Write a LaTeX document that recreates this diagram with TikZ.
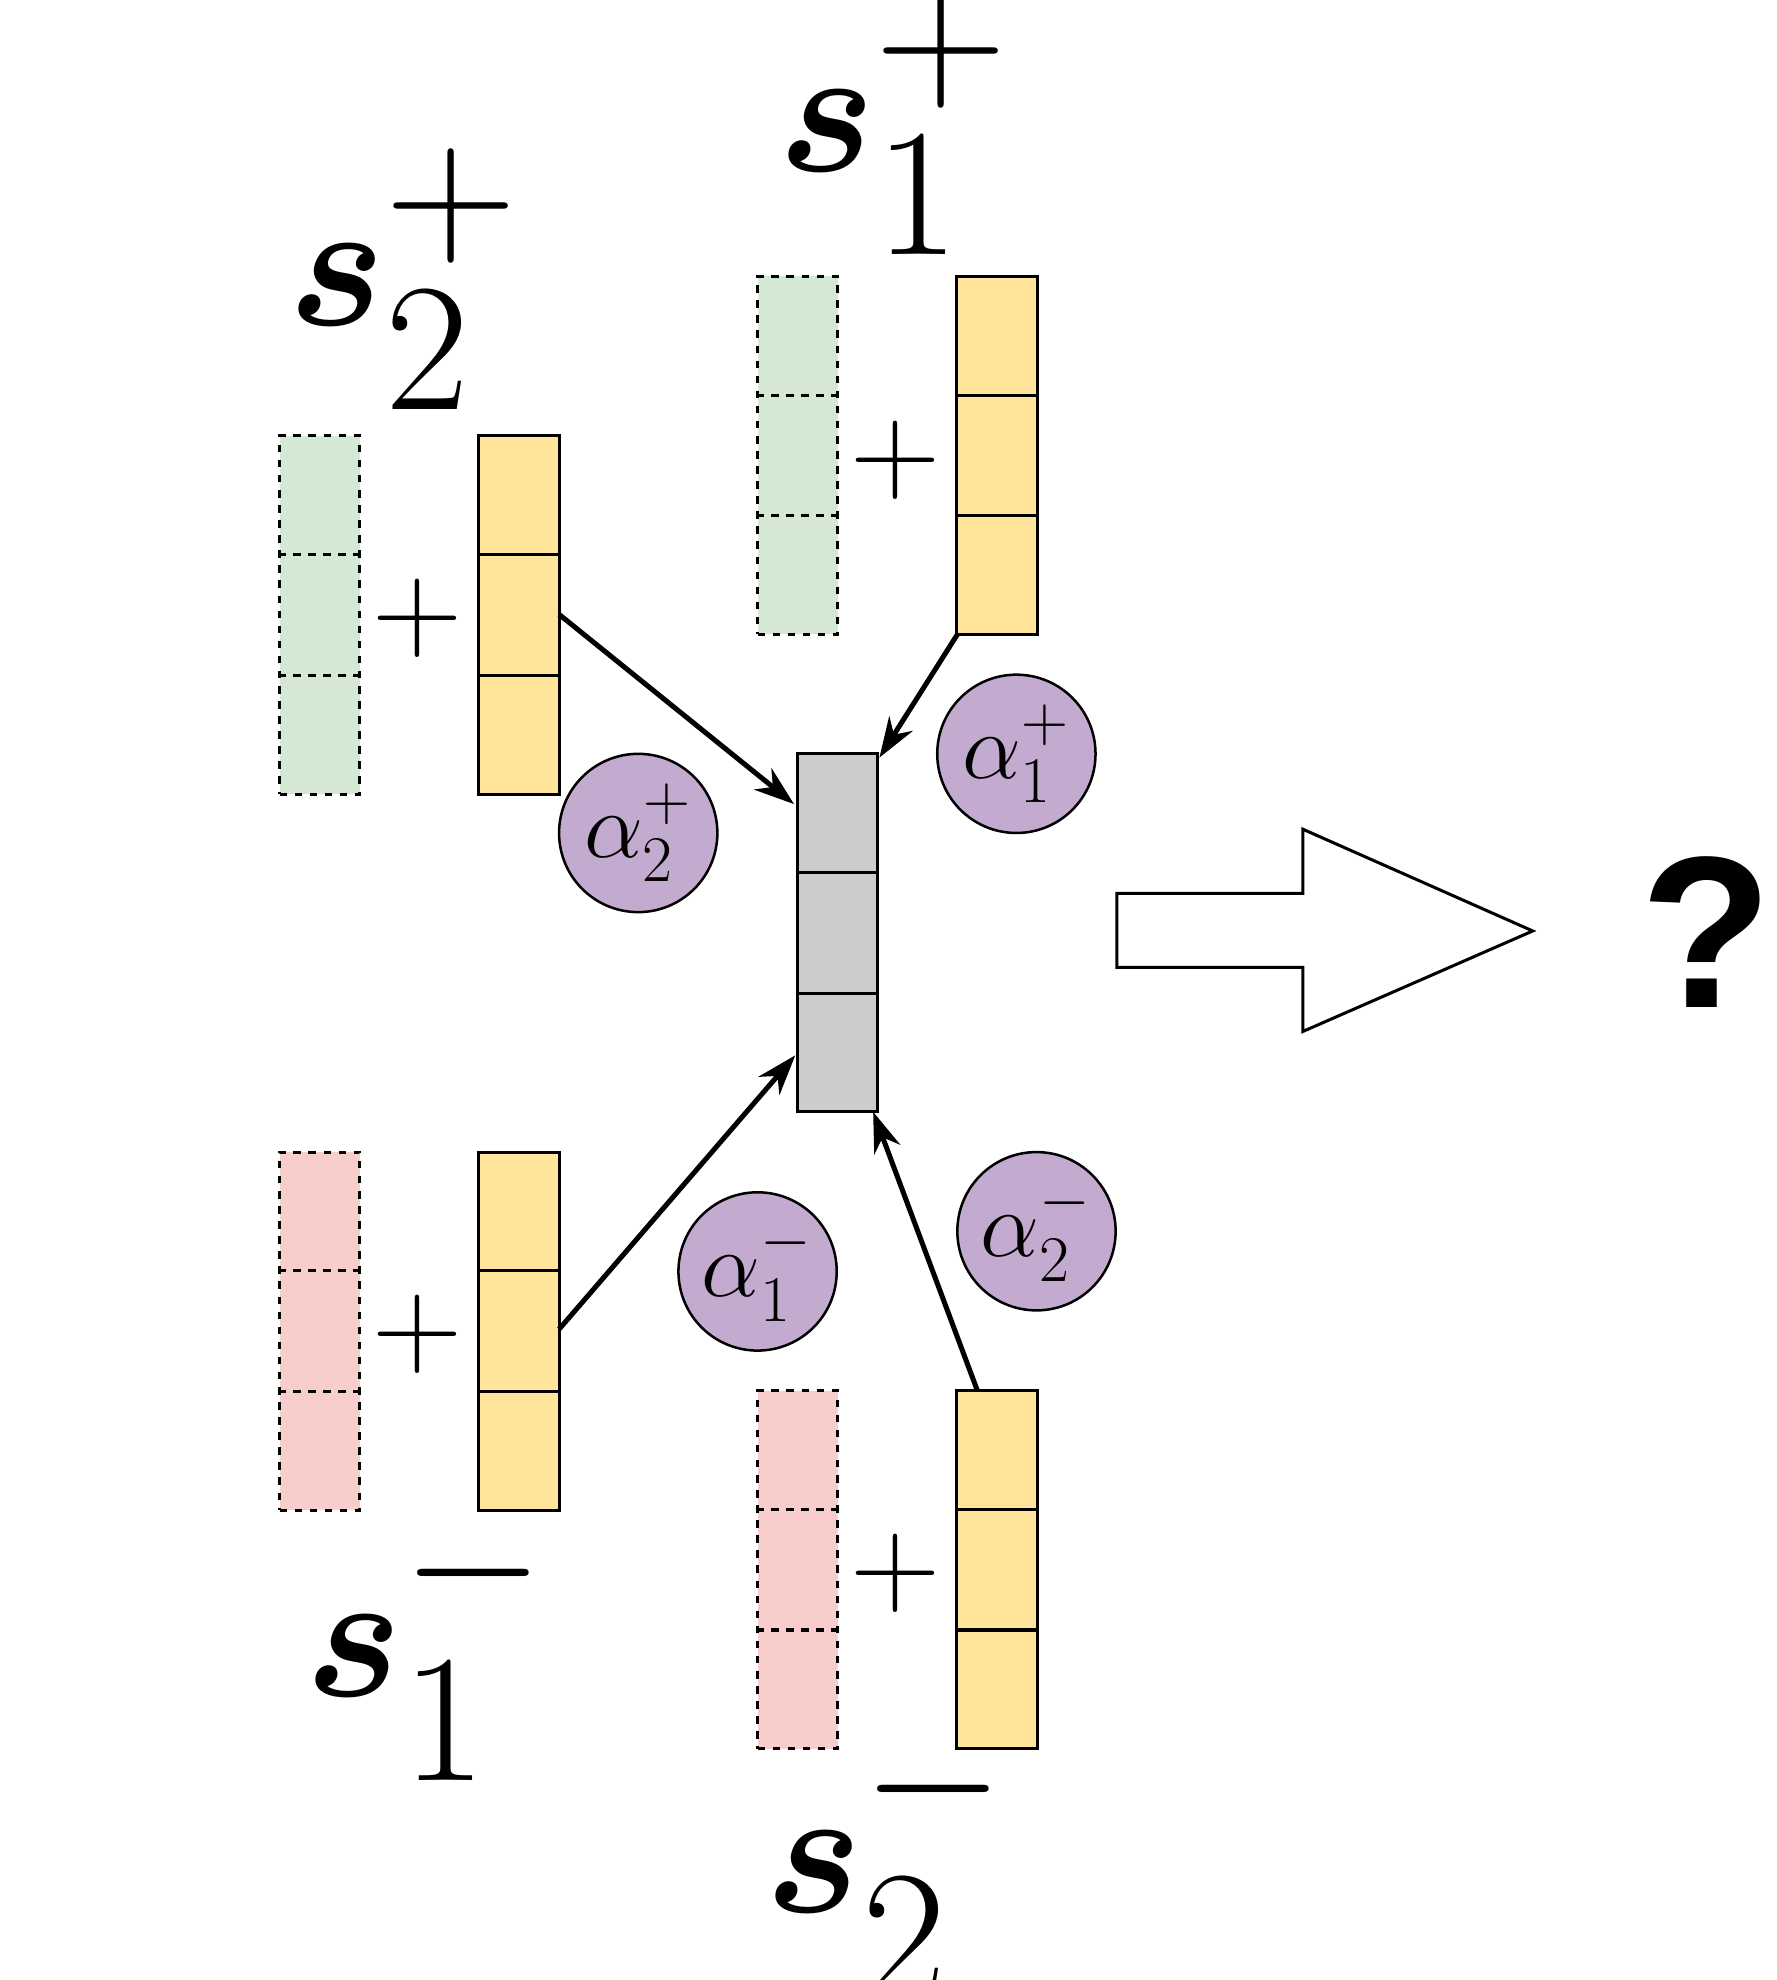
\documentclass[tikz,border=0pt]{standalone}
\usepackage{amsmath,bm,graphicx}
\usepackage{fontspec}
\newfontfamily\qfont{Liberation Sans}
\usetikzlibrary{calc,arrows.meta}
\definecolor{cgreen}{HTML}{D5E8D4}
\definecolor{cpink}{HTML}{F8CECC}
\definecolor{cyel}{HTML}{FFE599}
\definecolor{cgray}{HTML}{CCCCCC}
\definecolor{cpurp}{HTML}{C3ABD0}
\newcommand{\biglab}[2]{\scalebox{3.5}{\fontsize{20}{24}\selectfont$\bm{s}_{\textstyle #1}^{\textstyle #2}$}}
\newcommand{\bigplus}{\scalebox{2}{\fontsize{23}{26}\selectfont$+$}}
\newcommand{\coeftxt}[2]{\scalebox{1.5}{\fontsize{24}{28}\selectfont$\alpha_{#1}^{#2}$}}
\begin{document}
\begin{tikzpicture}[x=0.5pt,y=-0.5pt,
  col/.style={draw,line width=1.2pt,minimum width=32pt,minimum height=142.5pt,inner sep=0pt},
  dcol/.style={col,dashed},
  plusn/.style={inner sep=0pt},
  lab/.style={inner sep=0pt},
  coef/.style={circle,draw,line width=1pt,fill=cpurp,minimum size=63pt,inner sep=0pt},
  arr/.style={line width=2pt,-{Stealth[length=16pt,width=11pt]}}]
\useasboundingbox (0,0) rectangle (1414,1576);
% columns
\node[dcol,fill=cgreen] (g2) at (254.5,489.5) {};
\node[col,fill=cyel] (y2) at (413,489.5) {};
\node[dcol,fill=cgreen] (g1) at (635,362.5) {};
\node[col,fill=cyel] (y1) at (793.5,362.5) {};
\node[col,fill=cgray] (c) at (666.5,742.5) {};
\node[dcol,fill=cpink] (r1) at (254.5,1059.5) {};
\node[col,fill=cyel] (z1) at (413,1059.5) {};
\node[dcol,fill=cpink] (r2) at (635,1249.5) {};
\node[col,fill=cyel] (z2) at (793.5,1249.5) {};
\foreach \n/\s in {g2/dashed,y2/solid,g1/dashed,y1/solid,c/solid,r1/dashed,z1/solid,r2/dashed,z2/solid}{
  \draw[line width=1.2pt,\s] ($(\n.north west)!1/3!(\n.south west)$) -- ($(\n.north east)!1/3!(\n.south east)$)
    ($(\n.north west)!2/3!(\n.south west)$) -- ($(\n.north east)!2/3!(\n.south east)$);}
% plus signs
\node[plusn] (p2) at (332,492) {\bigplus};
\node[plusn] (p1) at (713,366) {\bigplus};
\node[plusn] (q1) at (332,1062) {\bigplus};
\node[plusn] (q2) at (713,1252) {\bigplus};
% labels
\node[lab] (l2p) at (322,222) {\biglab{2}{+}};
\node[lab] (l1p) at (712,99) {\biglab{1}{+}};
\node[lab] (l1m) at (340,1310) {\biglab{1}{-}};
\node[lab] (l2m) at (706,1482) {\biglab{2}{-}};
% coefficients
\node[coef] (a2p) at (508,663) {\coeftxt{2}{+}};
\node[coef] (a1p) at (809,600) {\coeftxt{1}{+}};
\node[coef] (a1m) at (603,1012) {\coeftxt{1}{-}};
\node[coef] (a2m) at (825,980) {\coeftxt{2}{-}};
% arrows
\coordinate (s2) at (445,489);
\coordinate (e2) at (632,640);
\coordinate (s1) at (762,505);
\coordinate (e1) at (700,603);
\coordinate (s3) at (445,1058);
\coordinate (e3) at (633,840);
\coordinate (s4) at (778,1107);
\coordinate (e4) at (695,885);
\draw[arr] (s2) -- (e2);
\draw[arr] (s1) -- (e1);
\draw[arr] (s3) -- (e3);
\draw[arr] (s4) -- (e4);
% block arrow
\draw[line width=1.2pt,fill=white] (889,711) -- (1037,711) -- (1037,660) -- (1220,741) -- (1037,821) -- (1037,770) -- (889,770) -- cycle;
\node[font=\qfont\bfseries\fontsize{86}{90}\selectfont,inner sep=0pt] (q) at (1358,742) {?};
\end{tikzpicture}
\end{document}
